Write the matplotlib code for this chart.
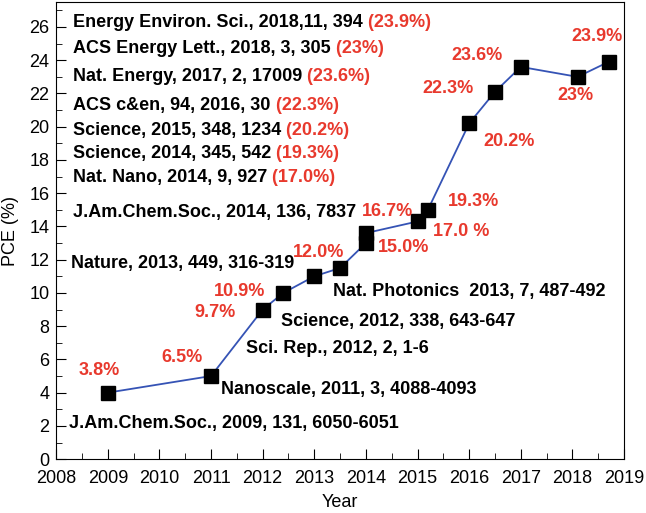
import matplotlib.pyplot as plt
from matplotlib.ticker import MultipleLocator

plt.rcParams['font.family'] = ['Liberation Sans', 'DejaVu Sans']

# PCE record points
year = [2009, 2011, 2012, 2012.4, 2013, 2013.5, 2014, 2014, 2015, 2015.2,
        2016, 2016.5, 2017, 2018.1, 2018.7]
pce = [4.0, 5.0, 9.0, 10.0, 11.0, 11.5, 13.0, 13.6, 14.3, 15.0,
       20.2, 22.1, 23.6, 23.0, 23.9]

# red efficiency labels next to the points
pct_labels = ["3.8%", "6.5%", "9.7%", "10.9%", "12.0%", "16.7%", "15.0%",
              "17.0 %", "19.3%", "20.2%", "22.3%", "23.6%", "23%", "23.9%"]
pct_x = [2008.83, 2010.43, 2011.07, 2011.55, 2013.09, 2014.41, 2014.72,
         2015.84, 2016.08, 2016.78, 2015.59, 2016.16, 2018.06, 2018.47]
pct_y = [5.36, 6.14, 8.8, 10.06, 12.41, 14.88, 12.71,
         13.67, 15.48, 19.1, 22.29, 24.28, 21.87, 25.42]

# reference list at top left (black part, red part)
ref_top = ["Energy Environ. Sci., 2018,11, 394", "ACS Energy Lett., 2018, 3, 305",
           "Nat. Energy, 2017, 2, 17009", "ACS c&en, 94, 2016, 30",
           "Science, 2015, 348, 1234", "Science, 2014, 345, 542",
           "Nat. Nano, 2014, 9, 927", "J.Am.Chem.Soc., 2014, 136, 7837"]
ref_top_pct = ["(23.9%)", "(23%)", "(23.6%)", "(22.3%)", "(20.2%)",
               "(19.3%)", "(17.0%)", ""]
ref_top_y = [26.27, 24.7, 23.0, 21.3, 19.76, 18.37, 16.93, 14.82]

# other references near the points
refs = ["Nature, 2013, 449, 316-319", "Nat. Photonics  2013, 7, 487-492",
        "Science, 2012, 338, 643-647", "Sci. Rep., 2012, 2, 1-6",
        "Nanoscale, 2011, 3, 4088-4093", "J.Am.Chem.Soc., 2009, 131, 6050-6051"]
refs_x = [2008.29, 2013.36, 2012.35, 2011.67, 2011.2, 2008.25]
refs_y = [11.8, 10.06, 8.31, 6.63, 4.16, 2.17]

RED = "#e8392d"
FS = 13

fig = plt.figure(figsize=(6.46, 5.13), dpi=100)
ax = fig.add_axes([0.087, 0.105, 0.879, 0.891])

ax.plot(year, pce, color="#3553b5", lw=1.3, marker="s", ms=10,
        mfc="black", mec="black")

for t, x, y in zip(pct_labels, pct_x, pct_y):
    ax.text(x, y, t, color=RED, fontsize=FS, fontweight="bold",
            ha="center", va="center")

for t, p, y in zip(ref_top, ref_top_pct, ref_top_y):
    txt = ax.text(2008.33, y, t, fontsize=FS, fontweight="bold", va="center")
    if p:
        ax.annotate(" " + p, xy=(1, 0), xycoords=txt, va="bottom",
                    color=RED, fontsize=FS, fontweight="bold")

for t, x, y in zip(refs, refs_x, refs_y):
    ax.text(x, y, t, fontsize=FS, fontweight="bold", va="center")

ax.set_xlim(2008, 2019)
ax.set_ylim(0, 27.5)
ax.xaxis.set_major_locator(MultipleLocator(1))
ax.xaxis.set_minor_locator(MultipleLocator(0.5))
ax.yaxis.set_major_locator(MultipleLocator(2))
ax.yaxis.set_minor_locator(MultipleLocator(1))
ax.tick_params(which="both", direction="in", labelsize=13)
ax.tick_params(which="major", length=7)
ax.tick_params(which="minor", length=4)
ax.tick_params(axis="x", pad=8)
ax.tick_params(axis="y", pad=5)
ax.set_xlabel("Year", fontsize=13, labelpad=5)
ax.set_ylabel("PCE (%)", fontsize=13, labelpad=7)

fig.savefig("out.png", dpi=100)
